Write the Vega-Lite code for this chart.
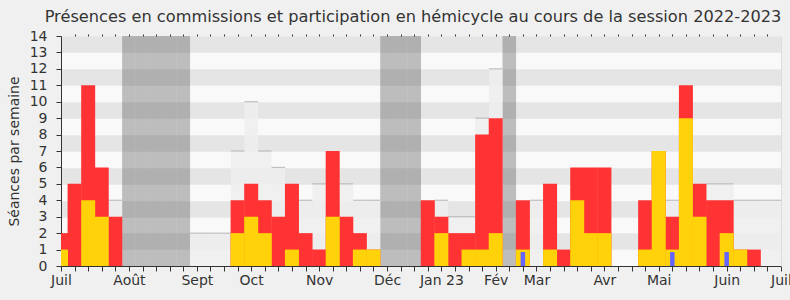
{
  "$schema": "https://vega.github.io/schema/vega-lite/v6.json",
  "width": 720,
  "height": 230,
  "autosize": {"type": "none"},
  "padding": {"left": 61, "top": 36, "right": 9, "bottom": 34},
  "background": "#f0f0f0",
  "config": {
    "font": "DejaVu Sans",
    "view": {"fill": "#f9f9f9", "stroke": null},
    "title": {"font": "DejaVu Sans", "fontSize": 16.2, "fontWeight": "normal", "color": "#333333"}
  },
  "title": {"text": "Présences en commissions et participation en hémicycle au cours de la session 2022-2023", "anchor": "middle", "offset": 4, "dx": -8},
  "data": {"values": [
    {"w":0,"r":2,"j":1,"m":0,"q":0,"v":0},
    {"w":1,"r":5,"j":0,"m":0,"q":0,"v":0},
    {"w":2,"r":11,"j":4,"m":0,"q":0,"v":0},
    {"w":3,"r":6,"j":3,"m":0,"q":0,"v":0},
    {"w":4,"r":3,"j":0,"m":4,"q":0,"v":0},
    {"w":5,"r":0,"j":0,"m":0,"q":0,"v":1},
    {"w":6,"r":0,"j":0,"m":0,"q":0,"v":1},
    {"w":7,"r":0,"j":0,"m":0,"q":0,"v":1},
    {"w":8,"r":0,"j":0,"m":0,"q":0,"v":1},
    {"w":9,"r":0,"j":0,"m":0,"q":0,"v":1},
    {"w":10,"r":0,"j":0,"m":2,"q":0,"v":0},
    {"w":11,"r":0,"j":0,"m":2,"q":0,"v":0},
    {"w":12,"r":0,"j":0,"m":2,"q":0,"v":0},
    {"w":13,"r":4,"j":2,"m":7,"q":0,"v":0},
    {"w":14,"r":5,"j":3,"m":10,"q":0,"v":0},
    {"w":15,"r":4,"j":2,"m":7,"q":0,"v":0},
    {"w":16,"r":3,"j":0,"m":6,"q":0,"v":0},
    {"w":17,"r":5,"j":1,"m":0,"q":0,"v":0},
    {"w":18,"r":2,"j":0,"m":4,"q":0,"v":0},
    {"w":19,"r":1,"j":0,"m":5,"q":0,"v":0},
    {"w":20,"r":7,"j":3,"m":0,"q":0,"v":0},
    {"w":21,"r":3,"j":0,"m":5,"q":0,"v":0},
    {"w":22,"r":2,"j":1,"m":4,"q":0,"v":0},
    {"w":23,"r":1,"j":1,"m":4,"q":0,"v":0},
    {"w":24,"r":0,"j":0,"m":0,"q":0,"v":1},
    {"w":25,"r":0,"j":0,"m":0,"q":0,"v":1},
    {"w":26,"r":0,"j":0,"m":0,"q":0,"v":1},
    {"w":27,"r":4,"j":0,"m":0,"q":0,"v":0},
    {"w":28,"r":3,"j":2,"m":4,"q":0,"v":0},
    {"w":29,"r":2,"j":0,"m":3,"q":0,"v":0},
    {"w":30,"r":2,"j":1,"m":3,"q":0,"v":0},
    {"w":31,"r":8,"j":1,"m":9,"q":0,"v":0},
    {"w":32,"r":9,"j":2,"m":12,"q":0,"v":0},
    {"w":33,"r":0,"j":0,"m":0,"q":0,"v":1},
    {"w":34,"r":4,"j":1,"m":0,"q":0.85,"v":0},
    {"w":35,"r":0,"j":0,"m":4,"q":0,"v":0},
    {"w":36,"r":5,"j":1,"m":0,"q":0,"v":0},
    {"w":37,"r":1,"j":0,"m":0,"q":0,"v":0},
    {"w":38,"r":6,"j":4,"m":0,"q":0,"v":0},
    {"w":39,"r":6,"j":2,"m":5,"q":0,"v":0},
    {"w":40,"r":6,"j":2,"m":0,"q":0,"v":0},
    {"w":41,"r":0,"j":0,"m":0,"q":0,"v":0},
    {"w":42,"r":0,"j":0,"m":0,"q":0,"v":0},
    {"w":43,"r":4,"j":1,"m":0,"q":0,"v":0},
    {"w":44,"r":7,"j":7,"m":0,"q":0,"v":0},
    {"w":45,"r":3,"j":1,"m":4,"q":0.85,"v":0},
    {"w":46,"r":11,"j":9,"m":0,"q":0,"v":0},
    {"w":47,"r":5,"j":3,"m":0,"q":0,"v":0},
    {"w":48,"r":4,"j":0,"m":5,"q":0,"v":0},
    {"w":49,"r":4,"j":2,"m":5,"q":0.85,"v":0},
    {"w":50,"r":1,"j":1,"m":4,"q":0,"v":0},
    {"w":51,"r":1,"j":0,"m":4,"q":0,"v":0},
    {"w":52,"r":0,"j":0,"m":4,"q":0,"v":0},
    {"w":53,"r":0,"j":0,"m":4,"q":0,"v":0}
  ]},
  "resolve": {"axis": {"x": "independent", "y": "independent"}},
  "layer": [
    {
      "transform": [{"filter": "datum.v == 1"}],
      "mark": {"type": "bar", "orient": "vertical", "width": 13.585, "color": "#4e4e4e", "opacity": 0.35, "clip": true},
      "encoding": {
        "x": {"field": "w", "type": "quantitative", "scale": {"domain": [0, 53], "nice": false, "zero": false, "padding": 0},
          "axis": {"orient": "bottom", "values": [0,1,2,3,4,5,6,7,8,9,10,11,12,13,14,15,16,17,18,19,20,21,22,23,24,25,26,27,28,29,30,31,32,33,34,35,36,37,38,39,40,41,42,43,44,45,46,47,48,49,50,51,52,53],
            "title": null, "grid": false, "tickSize": 5, "tickColor": "#333333", "domainColor": "#333333",
            "labelFontSize": 14, "labelColor": "#333333", "labelPadding": 2, "labelFlush": false, "labelOverlap": false, "labelBound": false,
            "labelExpr": "datum.value==0?'Juil':datum.value==5?'Août':datum.value==10?'Sept':datum.value==14?'Oct':datum.value==19?'Nov':datum.value==24?'Déc':datum.value==28?'Jan 23':datum.value==32?'Fév':datum.value==35?'Mar':datum.value==40?'Avr':datum.value==44?'Mai':datum.value==49?'Juin':datum.value==53?'Juil':''"}},
        "y": {"datum": 14, "type": "quantitative", "stack": null, "scale": {"domain": [0, 14], "nice": false},
          "axis": {"orient": "left", "values": [0,1,2,3,4,5,6,7,8,9,10,11,12,13,14], "grid": false,
            "title": "Séances par semaine", "titleFontSize": 14, "titleFontWeight": "normal", "titleColor": "#333333", "titlePadding": 8,
            "tickSize": 5, "tickColor": "#333333", "domainColor": "#333333",
            "labelFontSize": 14, "labelColor": "#333333", "labelPadding": 9}}
      }
    },
    {
      "transform": [{"filter": "datum.m > 0"}],
      "mark": {"type": "bar", "orient": "vertical", "width": 13.585, "color": "#efefef", "opacity": 0.85, "clip": true},
      "encoding": {
        "x": {"field": "w", "type": "quantitative",
          "axis": {"orient": "top", "values": [1,2,3,4,5,6,7,8,9,10,11,12,13,14,15,16,17,18,19,20,21,22,23,24,25,26,27,28,29,30,31,32,33,34,35,36,37,38,39,40,41,42,43,44,45,46,47,48,49,50,51,52],
            "title": null, "grid": false, "labels": false, "domain": false, "tickSize": 2, "tickColor": "#333333"}},
        "y": {"field": "m", "type": "quantitative", "stack": null,
          "axis": {"orient": "right", "values": [1.5,3.5,5.5,7.5,9.5,11.5,13.5], "title": null, "labels": false, "ticks": false,
            "domain": true, "domainColor": "#dddddd", "grid": true, "gridWidth": 16.43, "gridColor": "#e5e5e5"}}
      }
    },
    {
      "transform": [{"filter": "datum.m > 0"}],
      "mark": {"type": "tick", "orient": "horizontal", "size": 13.585, "thickness": 1.2, "color": "#aaaaaa", "clip": true},
      "encoding": {
        "x": {"field": "w", "type": "quantitative", "axis": null},
        "y": {"field": "m", "type": "quantitative", "axis": null}
      }
    },
    {
      "transform": [{"filter": "datum.r > 0"}],
      "mark": {"type": "bar", "orient": "vertical", "width": 14, "color": "#ff3333", "clip": true},
      "encoding": {
        "x": {"field": "w", "type": "quantitative", "axis": null},
        "y": {"field": "r", "type": "quantitative", "stack": null, "axis": null}
      }
    },
    {
      "transform": [{"filter": "datum.j > 0"}],
      "mark": {"type": "bar", "orient": "vertical", "width": 14, "color": "#ffd20a", "clip": true},
      "encoding": {
        "x": {"field": "w", "type": "quantitative", "axis": null},
        "y": {"field": "j", "type": "quantitative", "stack": null, "axis": null}
      }
    },
    {
      "transform": [{"filter": "datum.q > 0"}],
      "mark": {"type": "bar", "orient": "vertical", "width": 4.5, "color": "#6464ff", "clip": true},
      "encoding": {
        "x": {"field": "w", "type": "quantitative", "axis": null},
        "y": {"field": "q", "type": "quantitative", "stack": null, "axis": null}
      }
    }
  ]
}
